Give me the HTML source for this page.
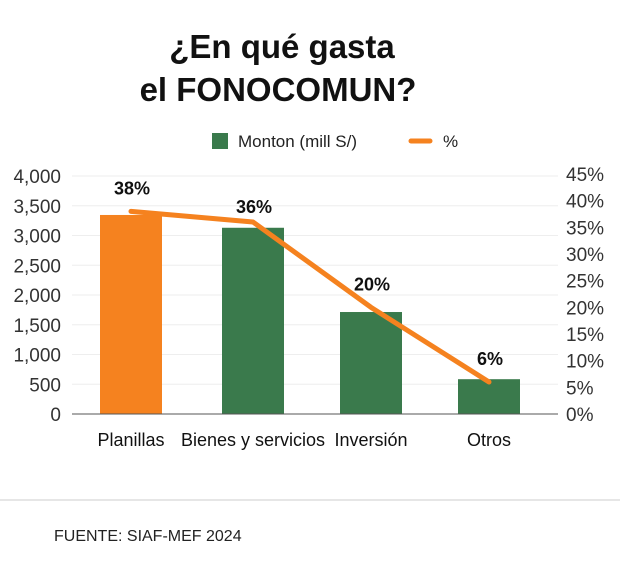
<!DOCTYPE html>
<html><head><meta charset="utf-8"><style>
body{margin:0;background:#fff;font-family:"Liberation Sans",sans-serif;}
svg text{font-family:"Liberation Sans",sans-serif;}
</style></head><body>
<svg width="620" height="573">
<text x="282" y="58" text-anchor="middle" font-size="33" font-weight="bold" fill="#111">¿En qué gasta</text>
<text x="278" y="101" text-anchor="middle" font-size="33" font-weight="bold" fill="#111">el FONOCOMUN?</text>
<g>
<rect x="212" y="133" width="16" height="16" fill="#3a7a4c"/>
<text x="238" y="147" font-size="17" fill="#222">Monton (mill S/)</text>
<line x1="411" y1="141" x2="430" y2="141" stroke="#f5821f" stroke-width="5" stroke-linecap="round"/>
<text x="443" y="147" font-size="17" fill="#222">%</text>
</g>
<g id="plot"></g>
<line x1="0" y1="500" x2="620" y2="500" stroke="#ccc" stroke-width="1"/>
<text x="54" y="541" font-size="16" fill="#222">FUENTE: SIAF-MEF 2024</text>
</svg>
<script>
const categories=["Planillas","Bienes y servicios","Inversión","Otros"];
const montos=[3345,3130,1714,585];
const pcts=[38,36,20,6];
const pctLabels=["38%","36%","20%","6%"];
const leftTicks=[0,500,1000,1500,2000,2500,3000,3500,4000];
const rightTicks=[0,5,10,15,20,25,30,35,40,45];
const barColors=["#f5821f","#3a7a4c","#3a7a4c","#3a7a4c"];
const NS="http://www.w3.org/2000/svg";
const g=document.getElementById('plot');
const X0=72,X1=558,Y0=414,Y1=176,step=118,bw=62,start=131;
const yL=v=>Y0-(v/4000)*(Y0-Y1);
const yR=v=>Y0-(v/45)*(Y0-174);
const xC=i=>start+i*step+(i>0?4:0);
function mk(t,a){const e=document.createElementNS(NS,t);for(const k in a)e.setAttribute(k,a[k]);g.appendChild(e);return e;}
leftTicks.forEach(v=>{
 if(v>0){const l=mk('line',{x1:X0,x2:X1,y1:yL(v),y2:yL(v),stroke:'#eee','stroke-width':1});
 
 }
 const t=mk('text',{x:61,y:yL(v)+7,'text-anchor':'end','font-size':19,fill:'#333'});t.textContent=v.toLocaleString('en-US');
 
 
});
rightTicks.forEach(v=>{
 const t=mk('text',{x:566,y:yR(v)+7,'font-size':19,fill:'#333'});t.textContent=v+'%';
 
 
});
categories.forEach((c,i)=>{
 const r=mk('rect',{x:xC(i)-bw/2,y:yL(montos[i]),width:bw,height:Y0-yL(montos[i]),fill:barColors[i]});
 
 
 const t=mk('text',{x:xC(i),y:446,'text-anchor':'middle','font-size':18,fill:'#111'});t.textContent=c;
 
 
});
const ax=mk('line',{x1:X0,x2:X1,y1:Y0,y2:Y0,stroke:'#555','stroke-width':1});


const pts=pcts.map((p,i)=>xC(i)+','+yR(p)).join(' ');
const pl=mk('polyline',{points:pts,fill:'none',stroke:'#f5821f','stroke-width':5,'stroke-linejoin':'round','stroke-linecap':'round'});


pcts.forEach((p,i)=>{
 const t=mk('text',{x:xC(i)+1,y:yR(p)-(i===1?9:17),'text-anchor':'middle','font-size':18,'font-weight':'bold',fill:'#111'});t.textContent=pctLabels[i];
 
 
});
</script>
</body></html>
